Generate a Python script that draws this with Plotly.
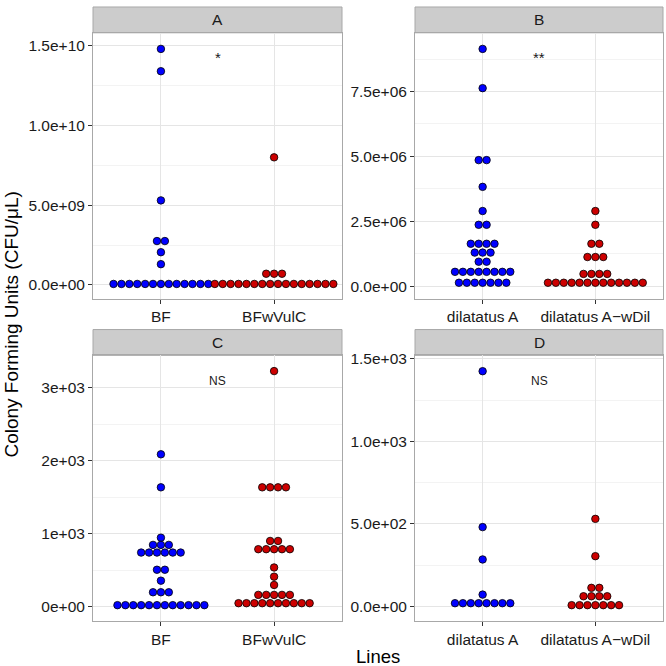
import plotly.graph_objects as go
from collections import Counter

# ---------------- data ----------------
cats_AC = ["BF", "BFwVulC"]
cats_BD = ["dilatatus A", "dilatatus A\u2212wDil"]

A_BF = [1.48e10, 1.34e10, 5.3e9, 2.75e9, 2.75e9, 2.05e9, 1.3e9] + [6e7] * 13
A_BFwVulC = [8.0e9, 7.0e8, 7.0e8, 7.0e8] + [6e7] * 16

B_dilA = ([9.14e6, 7.63e6, 4.86e6, 4.86e6, 3.83e6, 2.9e6, 2.37e6, 2.37e6]
          + [1.64e6] * 4 + [1.30e6] * 3 + [0.95e6] * 2 + [0.56e6] * 8 + [0.14e6] * 7)
B_dilAw = [2.9e6, 2.37e6, 1.64e6, 1.64e6] + [1.13e6] * 3 + [0.48e6] * 4 + [0.14e6] * 13

C_BF = ([2088, 1635, 944] + [845] * 3 + [740] * 6 + [504] * 2 + [354]
        + [195] * 3 + [18] * 12)
C_BFwVulC = ([3230] + [1635] * 4 + [899] * 2 + [786] * 5 + [535, 409, 295]
             + [159] * 5 + [45] * 10)

D_dilA = [1426, 481, 285, 72] + [20] * 8
D_dilAw = [531, 305, 113, 113] + [62] * 4 + [8] * 7

A_ticks = [0, 5e9, 1e10, 1.5e10]
A_ticktext = ["0.0e+00", "5.0e+09", "1.0e+10", "1.5e+10"]
B_ticks = [0, 2.5e6, 5e6, 7.5e6]
B_ticktext = ["0.0e+00", "2.5e+06", "5.0e+06", "7.5e+06"]
C_ticks = [0, 1000, 2000, 3000]
C_ticktext = ["0e+00", "1e+03", "2e+03", "3e+03"]
D_ticks = [0, 500, 1000, 1500]
D_ticktext = ["0.0e+00", "5.0e+02", "1.0e+03", "1.5e+03"]

labels = ["A", "B", "C", "D"]
signif = ["*", "**", "NS", "NS"]

# ---------------- layout geometry (pixels) ----------------
W = H = 666
cols = [(93, 342), (415, 663)]
rows = [(28, 296), (353, 621)]
strip_h = 26
BLUE = "#0000FF"
RED = "#CC0000"
FONT = "Liberation Sans, Arial, Helvetica, sans-serif"

panels = [
    dict(data=[A_BF, A_BFwVulC], cats=cats_AC, yr=[-0.087e10, 1.581e10], tv=A_ticks, tt=A_ticktext,
         minor=2.5e9, sig_y=1.425e10),
    dict(data=[B_dilA, B_dilAw], cats=cats_BD, yr=[-0.477e6, 9.76e6], tv=B_ticks, tt=B_ticktext,
         minor=1.25e6, sig_y=8.81e6),
    dict(data=[C_BF, C_BFwVulC], cats=cats_AC, yr=[-204, 3446], tv=C_ticks, tt=C_ticktext,
         minor=500, sig_y=3090),
    dict(data=[D_dilA, D_dilAw], cats=cats_BD, yr=[-90, 1522], tv=D_ticks, tt=D_ticktext,
         minor=250, sig_y=1366),
]

fig = go.Figure()
shapes = []
annotations = []
dot_px = 7.9

for i, p in enumerate(panels):
    c, r = i % 2, i // 2
    x0, x1 = cols[c]
    y0, y1 = rows[r]
    n = i + 1
    xa = "x" if n == 1 else f"x{n}"
    ya = "y" if n == 1 else f"y{n}"
    xr = [0.4, 2.6]
    step = dot_px / ((x1 - x0) / (xr[1] - xr[0]))
    for k, (vals, col) in enumerate(zip(p["data"], [BLUE, RED])):
        cnt = Counter(vals)
        seen = Counter()
        xs, ys = [], []
        for v in vals:
            m = cnt[v]
            j = seen[v]
            seen[v] += 1
            xs.append(k + 1 + (j - (m - 1) / 2) * step)
            ys.append(v)
        fig.add_trace(go.Scatter(
            x=xs, y=ys, mode="markers", xaxis=xa, yaxis=ya, showlegend=False,
            marker=dict(size=7.5, color=col, line=dict(color="black", width=0.8))))
    axkey = "xaxis" if n == 1 else f"xaxis{n}"
    aykey = "yaxis" if n == 1 else f"yaxis{n}"
    fig.layout[axkey] = dict(
        domain=[x0 / W, x1 / W], anchor=ya, range=xr, tickmode="array",
        tickvals=[1, 2], ticktext=p["cats"], showgrid=True, gridcolor="#E5E5E5",
        zeroline=False, ticks="outside", ticklen=4, tickcolor="#333333",
        showline=True, mirror=True, linecolor="#A8A8A8", linewidth=1,
        tickfont=dict(family=FONT, size=15.5, color="#1A1A1A"), fixedrange=True)
    fig.layout[aykey] = dict(
        domain=[1 - y1 / H, 1 - y0 / H], anchor=xa, range=p["yr"], tickmode="array",
        tickvals=p["tv"], ticktext=p["tt"], showgrid=True, gridcolor="#E5E5E5",
        minor=dict(dtick=p["minor"], tick0=0, showgrid=True, gridcolor="#F3F3F3", ticks=""),
        zeroline=False, ticks="outside", ticklen=4, tickcolor="#333333",
        showline=True, mirror=True, linecolor="#A8A8A8", linewidth=1,
        tickfont=dict(family=FONT, size=15.5, color="#1A1A1A"), fixedrange=True)
    # strip
    shapes.append(dict(type="rect", xref="paper", yref="paper",
                       x0=x0 / W, x1=x1 / W, y0=1 - y0 / H, y1=1 - (y0 - strip_h) / H,
                       fillcolor="#CCCCCC", line=dict(color="#A8A8A8", width=1), layer="below"))
    annotations.append(dict(xref="paper", yref="paper", x=(x0 + x1) / 2 / W,
                            y=1 - (y0 - strip_h / 2) / H, text=labels[i], showarrow=False,
                            font=dict(family=FONT, size=15.5, color="#1A1A1A"),
                            xanchor="center", yanchor="middle"))
    annotations.append(dict(xref=xa, yref=ya, x=1.5, y=p["sig_y"], text=signif[i],
                            showarrow=False,
                            font=dict(family=FONT, size=15 if i < 2 else 12, color="#1A1A1A"),
                            xanchor="center", yanchor="middle"))

annotations.append(dict(xref="paper", yref="paper", x=12 / W, y=1 - 322 / H,
                        text="Colony Forming Units (CFU/\u03bcL)", textangle=-90,
                        showarrow=False, font=dict(family=FONT, size=19, color="black"),
                        xanchor="center", yanchor="middle"))
annotations.append(dict(xref="paper", yref="paper", x=378 / W, y=1 - 656 / H,
                        text="Lines", showarrow=False,
                        font=dict(family=FONT, size=18.5, color="black"),
                        xanchor="center", yanchor="middle"))

fig.update_layout(width=W, height=H, margin=dict(l=0, r=0, t=0, b=0),
                  paper_bgcolor="white", plot_bgcolor="white",
                  shapes=shapes, annotations=annotations)

fig.write_html("out.html", config={"displayModeBar": False},
               post_script="document.body.style.margin='0';document.body.style.padding='0';"
                           "document.documentElement.style.overflow='hidden';")
